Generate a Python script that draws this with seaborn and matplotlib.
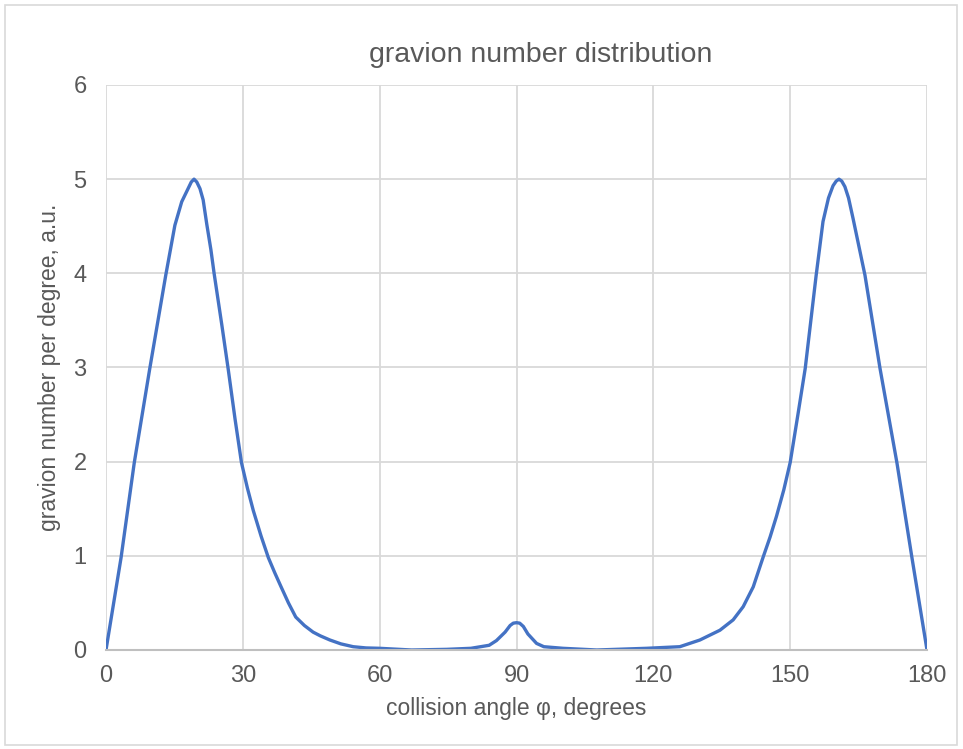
import numpy as np
import pandas as pd
import seaborn as sns
import matplotlib.pyplot as plt
from matplotlib.patches import Rectangle

# Data (angle in degrees, gravion number per degree)
angle = [0, 3.3, 6.2, 9.6, 13.1, 15.1, 16.6, 18.0, 18.7, 19.3, 19.9, 20.6, 21.3,
         22.1, 23.0, 23.7, 25.4, 26.8, 28.3, 29.7, 31.0, 32.3, 34.0, 35.6, 37.0, 38.3,
         40.0, 41.6, 43.5, 45.4, 47.0, 49.1, 51.5, 54.2, 57, 60, 67, 74.7, 80,
         84, 85.6, 87.5, 88.6, 89.3, 90, 90.7, 91.5, 92.5, 94.4, 96, 100.2, 107.6,
         118.5, 125.8, 130.2, 134.6, 137.5, 139.7, 141.9, 144.1, 145.6, 147.0,
         148.6, 150, 151.7, 153.3, 155.7, 157.2, 158.4, 159.4, 160.1, 160.7, 161.3,
         162.0, 162.8, 163.8, 166.4, 169.7, 173.4, 176.7, 180]
gravions = [0, 0.98, 1.99, 2.99, 3.98, 4.51, 4.76, 4.90, 4.97, 5.0, 4.97, 4.90, 4.78,
            4.52, 4.25, 4.0, 3.45, 2.98, 2.45, 1.99, 1.72, 1.48, 1.21, 0.98, 0.82, 0.68,
            0.50, 0.35, 0.26, 0.19, 0.15, 0.106, 0.065, 0.035, 0.022, 0.018, 0.0, 0.007,
            0.018, 0.05, 0.1, 0.19, 0.26, 0.285, 0.29, 0.285, 0.25, 0.17, 0.07, 0.035,
            0.018, 0.0, 0.018, 0.035, 0.106, 0.21, 0.32, 0.46, 0.67, 0.99, 1.20, 1.42,
            1.70, 1.99, 2.5, 2.99, 3.98, 4.55, 4.80, 4.93, 4.98, 5.0, 4.98,
            4.92, 4.80, 4.58, 3.98, 2.99, 1.99, 0.98, 0]

df = pd.DataFrame({"angle": angle, "n": gravions})

sns.set_theme(style="white")
plt.rcParams['font.family'] = ['Liberation Sans', 'DejaVu Sans']
grey = "#595959"

fig = plt.figure(figsize=(9.63, 7.49), dpi=100)
ax = fig.add_axes([106 / 963, 99 / 749, 821 / 963, 565 / 749])

sns.lineplot(data=df, x="angle", y="n", ax=ax, color="#4472c4", linewidth=2.4,
             solid_joinstyle="round", solid_capstyle="round")

ax.set_xlim(0, 180)
ax.set_ylim(0, 6)
ax.set_xticks(range(0, 181, 30))
ax.set_yticks(range(0, 7))
ax.grid(True, color="#d9d9d9", linewidth=1.3)
ax.set_axisbelow(True)
for s in ["top", "right", "left"]:
    ax.spines[s].set_visible(False)
ax.spines["bottom"].set_color("#bfbfbf")
ax.spines["bottom"].set_linewidth(1.5)
ax.tick_params(axis="both", length=0, labelsize=17, colors=grey)
ax.tick_params(axis="x", pad=11)
ax.tick_params(axis="y", pad=14)

ax.set_xlabel("collision angle φ, degrees", fontsize=16.5, color=grey, labelpad=7)
ax.set_ylabel("gravion number per degree, a.u.", fontsize=16.5, color=grey, labelpad=9)
fig.text(541 / 963, 1 - 55 / 749, "gravion number distribution", fontsize=20.5,
         color=grey, ha="center", va="center")

# chart border like the spreadsheet frame
fig.patches.append(Rectangle((5 / 963, 4 / 749), 952 / 963, 740 / 749,
                             transform=fig.transFigure, fill=False,
                             edgecolor="#d9d9d9", linewidth=1.2))

fig.savefig("out.png", dpi=100)
